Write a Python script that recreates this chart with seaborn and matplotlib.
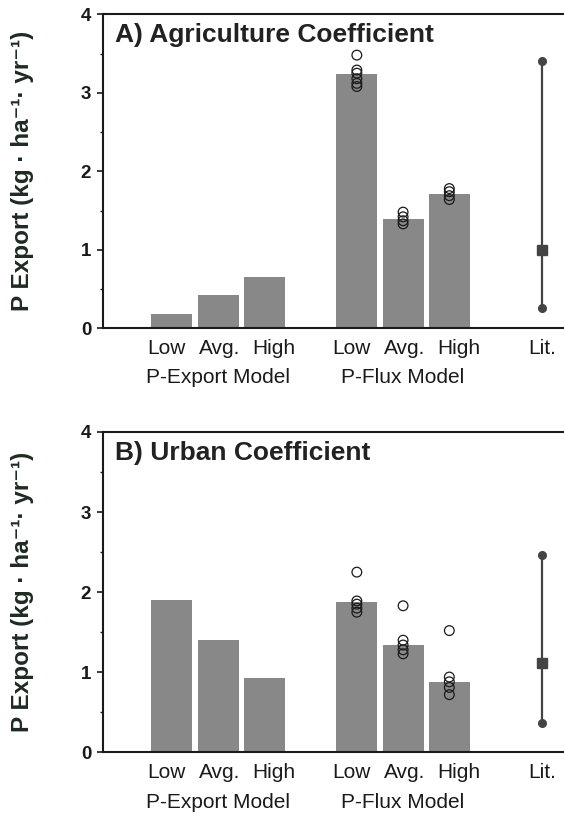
import numpy as np
import pandas as pd
import matplotlib
matplotlib.use("Agg")
import matplotlib.pyplot as plt
import matplotlib.transforms as mtransforms
import seaborn as sns
from matplotlib.ticker import MultipleLocator

# ---------------- data ----------------
levels = ["Low", "Avg.", "High"]
model_names = ["P-Export Model", "P-Flux Model"]
lit_label = "Lit."

panel_titles = ["A) Agriculture Coefficient", "B) Urban Coefficient"]

agr_export = [0.18, 0.42, 0.65]
agr_flux = [3.235, 1.39, 1.71]
agr_flux_low_runs = [3.48, 3.29, 3.25, 3.18, 3.12, 3.08]
agr_flux_avg_runs = [1.48, 1.42, 1.37, 1.33]
agr_flux_high_runs = [1.78, 1.74, 1.69, 1.64]
agr_lit = [0.26, 1.00, 3.41]   # min, mean, max

urb_export = [1.90, 1.40, 0.925]
urb_flux = [1.875, 1.34, 0.88]
urb_flux_low_runs = [2.25, 1.89, 1.85, 1.80, 1.75]
urb_flux_avg_runs = [1.83, 1.40, 1.34, 1.28, 1.23]
urb_flux_high_runs = [1.52, 0.94, 0.88, 0.81, 0.72]
urb_lit = [0.37, 1.11, 2.46]

yticks = [0, 1, 2, 3, 4]

# ---------------- style ----------------
sns.set_theme(style="white")
plt.rcParams["font.family"] = ["Liberation Sans", "DejaVu Sans"]

BAR = "#888888"
INK = "#1a1a1a"
LIT = "#444444"
label_nudge_px = {"Low": -5, "Avg.": 2, "High": 9, "Lit.": 0}

# categorical slot order (blank slots act as gaps between groups)
slots = (["E|" + l for l in levels] + ["_gap1"] +
         ["F|" + l for l in levels] + ["_gap2"] + [lit_label])

W, H = 564, 815
fig = plt.figure(figsize=(W / 100, H / 100), dpi=100)
left = 103 / W
ax_a = fig.add_axes([left, 1 - 328.3 / H, 1 - left, (328.3 - 14.3) / H])
ax_b = fig.add_axes([left, 1 - 752.3 / H, 1 - left, (752.3 - 432) / H])

panels = [
    (ax_a, agr_export, agr_flux, [agr_flux_low_runs, agr_flux_avg_runs, agr_flux_high_runs], agr_lit, panel_titles[0], 49),
    (ax_b, urb_export, urb_flux, [urb_flux_low_runs, urb_flux_avg_runs, urb_flux_high_runs], urb_lit, panel_titles[1], 50),
]

for ax, exp_vals, flux_vals, runs, lit, title, grp_off in panels:
    bars = pd.DataFrame({
        "slot": ["E|" + l for l in levels] + ["F|" + l for l in levels],
        "value": list(exp_vals) + list(flux_vals),
    })
    sns.barplot(data=bars, x="slot", y="value", order=slots, color=BAR,
                saturation=1, width=0.885, linewidth=0, ax=ax, errorbar=None)

    pts = pd.DataFrame({
        "slot": sum([["F|" + l] * len(r) for l, r in zip(levels, runs)], []),
        "value": sum([list(r) for r in runs], []),
    })
    n_before = len(ax.collections)
    sns.stripplot(data=pts, x="slot", y="value", order=slots, jitter=False,
                  size=7, ax=ax, zorder=4)
    for coll in ax.collections[n_before:]:
        coll.set_facecolor("none")
        coll.set_edgecolor(INK)
        coll.set_linewidth(0.9)

    xl = slots.index(lit_label)
    ax.plot([xl, xl], [lit[0], lit[2]], color=LIT, lw=1.6, zorder=3)
    ax.plot([xl, xl], [lit[0], lit[2]], "o", color=LIT, ms=5.5, zorder=4)
    ax.plot([xl], [lit[1]], "s", color=LIT, ms=7.5, zorder=4)

    ax.set_xlim(-1.49, 8.48)
    ax.set_ylim(0, 4)
    ax.set_yticks(yticks)
    ax.set_yticklabels([str(t) for t in yticks], fontsize=13.5, fontweight="bold", color=INK)
    ax.yaxis.set_minor_locator(MultipleLocator(0.5))
    ax.tick_params(axis="y", which="major", direction="out", length=4.5, width=1.2,
                   left=True, pad=4, colors=INK)
    ax.tick_params(axis="y", which="minor", direction="out", length=2.2, width=1,
                   left=True, colors=INK)

    tick_pos = [slots.index("E|" + l) for l in levels] + \
               [slots.index("F|" + l) for l in levels] + [xl]
    tick_text = levels + levels + [lit_label]
    ax.set_xticks(tick_pos)
    ax.set_xticklabels(tick_text, fontsize=15, color=INK)
    ax.tick_params(axis="x", bottom=False, length=0, pad=7.5)
    for lab, txt in zip(ax.get_xticklabels(), tick_text):
        dx = label_nudge_px[txt] / 100
        lab.set_transform(lab.get_transform() +
                          mtransforms.ScaledTranslation(dx, 0, fig.dpi_scale_trans))

    grp_tr = mtransforms.offset_copy(ax.get_xaxis_transform(), fig=fig,
                                     x=0, y=-grp_off, units="dots")
    for name, center in zip(model_names, [slots.index("E|Avg."), slots.index("F|Avg.")]):
        ax.text(center, 0, name, transform=grp_tr,
                ha="center", va="center", fontsize=15, color=INK)

    ax.set_xlabel("")
    ax.set_ylabel("")
    bb = ax.get_position()
    fig.text(22.5 / W, (bb.y0 + bb.y1) / 2,
             "P Export (kg · ha\u207b\u00b9\u00b7 yr\u207b\u00b9)",
             rotation=90, ha="center", va="center", fontsize=17.5,
             fontweight="bold", color="#1f2a22")
    ax.text(12 / (bb.width * W), 0.972, title, transform=ax.transAxes, ha="left", va="top",
            fontsize=19, fontweight="bold", color="#222222")

    for side in ["left", "bottom", "top"]:
        ax.spines[side].set_visible(True)
        ax.spines[side].set_color(INK)
        ax.spines[side].set_linewidth(1.5)
    ax.spines["right"].set_visible(False)

fig.savefig("out.png", dpi=100, facecolor="white")
